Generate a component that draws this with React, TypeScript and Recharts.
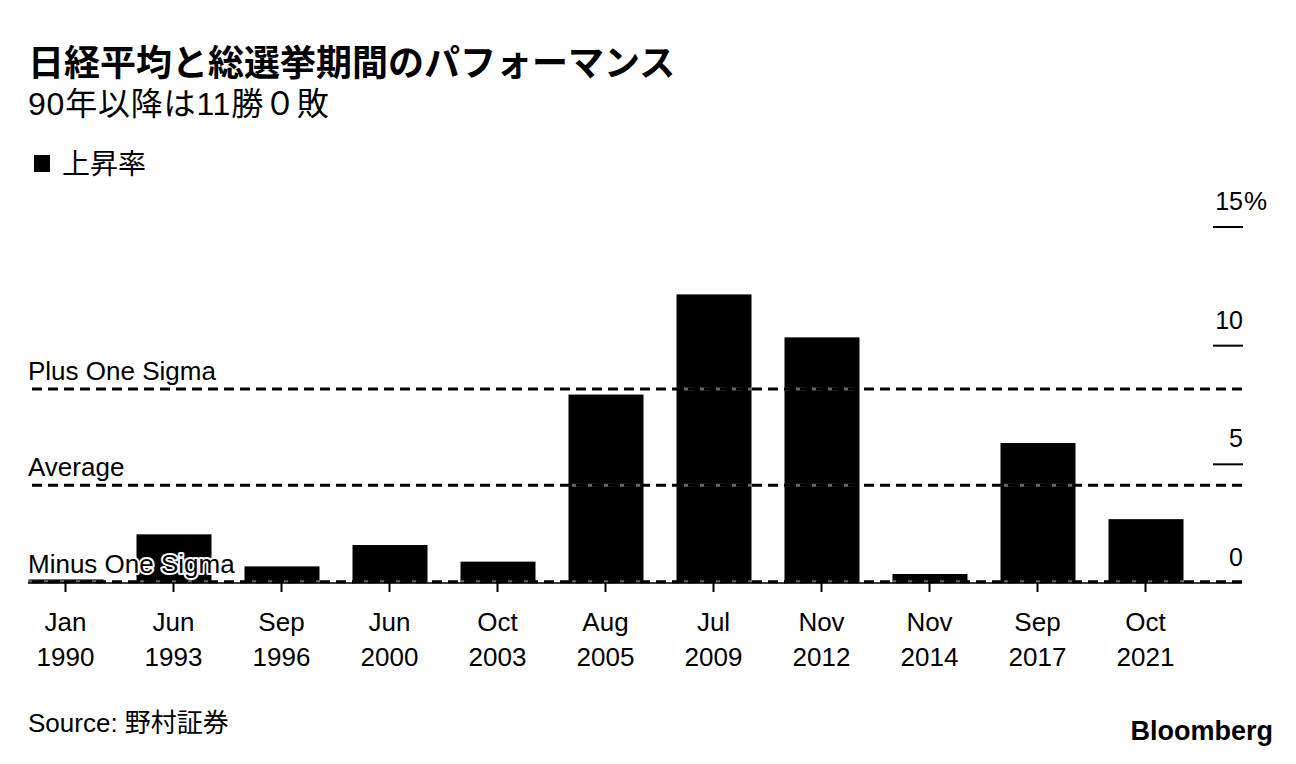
import React from 'react';
import { BarChart, Bar, XAxis, YAxis, ReferenceLine } from 'recharts';

const months = ['Jan', 'Jun', 'Sep', 'Jun', 'Oct', 'Aug', 'Jul', 'Nov', 'Nov', 'Sep', 'Oct'];
const years = ['1990', '1993', '1996', '2000', '2003', '2005', '2009', '2012', '2014', '2017', '2021'];
const rise = [0.15, 2.05, 0.7, 1.6, 0.9, 7.94, 12.16, 10.35, 0.38, 5.9, 2.69];

const refNames = ['Plus One Sigma', 'Average', 'Minus One Sigma'];
const refValues = [8.17, 4.12, 0.05];

const yTicks = [0, 5, 10, 15];

const data = months.map((m, i) => ({ key: `${m} ${years[i]}`, month: m, year: years[i], rise: rise[i] }));

const LATIN = '"Liberation Sans", Arial, "Noto Sans CJK JP", sans-serif';
const PLOT_LEFT = 28;
const DASH = '10 6';

// bar + grey dashes where the reference lines cross it
const BarShape = (props: any) => {
  const { x, y, width, height, payload } = props;
  const v = payload.rise;
  return (
    <g>
      <rect x={x} y={y} width={width} height={height} fill="#000" />
      {refValues.map((r, i) =>
        r > 0 && r < v ? (
          <line
            key={i}
            x1={x}
            x2={x + width}
            y1={y + height - (r * height) / v}
            y2={y + height - (r * height) / v}
            stroke="#6a6a6a"
            strokeWidth={3}
            strokeDasharray={DASH}
            strokeDashoffset={x - PLOT_LEFT}
          />
        ) : null
      )}
    </g>
  );
};

const XTick = (props: any) => {
  const { x, y, payload } = props;
  const d = data.find((row) => row.key === payload.value);
  return (
    <g>
      <text x={x} y={y} textAnchor="middle" fontFamily={LATIN} fontSize={26} fill="#000">
        <tspan x={x} dy={37}>{d ? d.month : ''}</tspan>
        <tspan x={x} dy={35}>{d ? d.year : ''}</tspan>
      </text>
    </g>
  );
};

const YTick = (props: any) => {
  const { x, y, payload } = props;
  const v = payload.value;
  return (
    <g>
      {v !== 0 && <line x1={x - 29} x2={x + 1} y1={y} y2={y} stroke="#000" strokeWidth={2} />}
      <text x={x + 1} y={y - 17} textAnchor="end" fontFamily={LATIN} fontSize={25} fill="#000">
        {v}
      </text>
      {v === 15 && (
        <text x={x + 2} y={y - 17} textAnchor="start" fontFamily={LATIN} fontSize={26} fill="#000">
          %
        </text>
      )}
    </g>
  );
};

const makeLabel = (text: string) => (props: any) => {
  const vb = props.viewBox || {};
  return (
    <text
      x={vb.x}
      y={vb.y - 9}
      textAnchor="start"
      fontFamily={LATIN}
      fontSize={26}
      fill="#000"
      stroke="#fff"
      strokeWidth={4}
      strokeLinejoin="round"
      paintOrder="stroke"
    >
      {text}
    </text>
  );
};

export default function App() {
  return (
    <div style={{ position: 'absolute', left: 0, top: 0, width: 1296, height: 764, background: '#fff', fontFamily: LATIN }}>
      <div
        style={{
          position: 'absolute',
          left: 28,
          top: 39,
          fontSize: 36,
          lineHeight: '42px',
          fontWeight: 700,
          fontFamily: '"Noto Sans CJK JP", sans-serif',
          color: '#000',
          whiteSpace: 'nowrap',
        }}
      >
        日経平均と総選挙期間のパフォーマンス
      </div>
      <div
        style={{
          position: 'absolute',
          left: 28,
          top: 85,
          fontSize: 32,
          letterSpacing: 0.8,
          lineHeight: '38px',
          color: '#000',
          whiteSpace: 'nowrap',
        }}
      >
        90年以降は11勝０敗
      </div>
      <div style={{ position: 'absolute', left: 34, top: 155, width: 16, height: 17, background: '#000' }} />
      <div
        style={{
          position: 'absolute',
          left: 62,
          top: 146,
          fontSize: 28,
          lineHeight: '32px',
          fontFamily: '"Noto Sans CJK JP", sans-serif',
          color: '#000',
          whiteSpace: 'nowrap',
        }}
      >
        上昇率
      </div>

      <div style={{ position: 'absolute', left: 0, top: 0 }}>
        <BarChart
          width={1296}
          height={764}
          data={data}
          margin={{ top: 227, right: 0, bottom: 81, left: PLOT_LEFT }}
          barSize={75}
        >
          <XAxis
            dataKey="key"
            interval={0}
            height={100}
            padding={{ left: -16.5, right: 42.5 }}
            axisLine={{ stroke: '#000', strokeWidth: 1.5 }}
            tickLine={{ stroke: '#000', strokeWidth: 2 }}
            tickSize={9}
            tickMargin={2}
            tick={<XTick />}
          />
          <YAxis
            orientation="right"
            width={54}
            domain={[0, 15]}
            ticks={yTicks}
            interval={0}
            axisLine={false}
            tickLine={false}
            tickSize={0}
            tickMargin={0}
            tick={<YTick />}
          />
          {refValues.map((r, i) => (
            <ReferenceLine
              key={refNames[i]}
              y={r}
              stroke="#000"
              strokeWidth={3}
              strokeDasharray={DASH}
              label={makeLabel(refNames[i])}
            />
          ))}
          <Bar dataKey="rise" fill="#000" shape={<BarShape />} isAnimationActive={false} />
        </BarChart>
      </div>

      <div
        style={{
          position: 'absolute',
          left: 28,
          top: 706,
          fontSize: 26,
          lineHeight: '34px',
          color: '#000',
          whiteSpace: 'nowrap',
        }}
      >
        Source: 野村証券
      </div>
      <div
        style={{
          position: 'absolute',
          right: 23,
          top: 714,
          fontSize: 27,
          lineHeight: '34px',
          fontWeight: 700,
          color: '#000',
          whiteSpace: 'nowrap',
        }}
      >
        Bloomberg
      </div>
    </div>
  );
}
